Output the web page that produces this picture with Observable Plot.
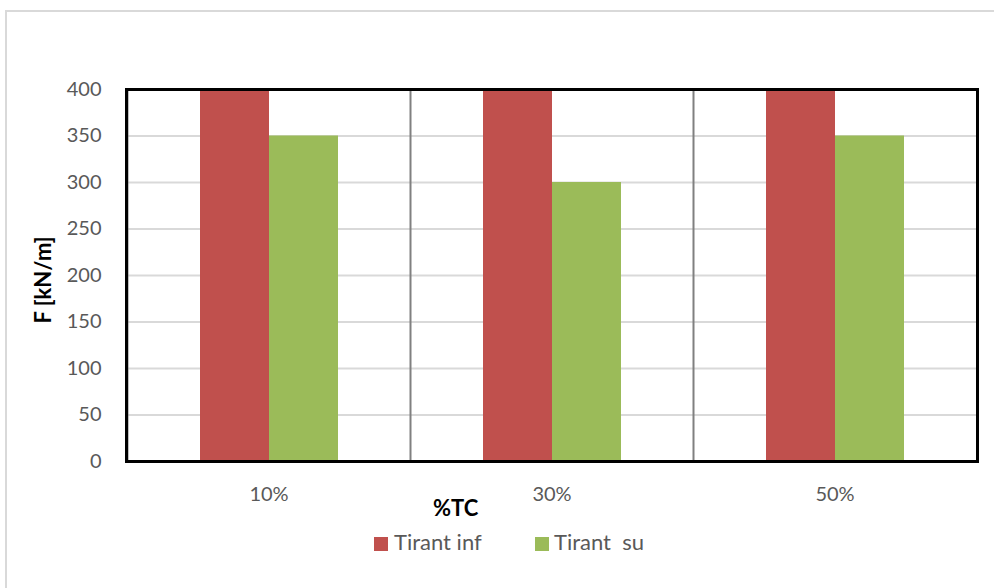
<!DOCTYPE html>
<html>
<head>
<meta charset="utf-8">
<script src="https://cdn.jsdelivr.net/npm/d3@7"></script>
<script src="https://cdn.jsdelivr.net/npm/@observablehq/plot@0.6"></script>
<style>
  html, body { margin: 0; padding: 0; background: #fff; }
  #wrap { position: relative; width: 994px; height: 588px; overflow: hidden; font-family: Lato, "Open Sans", sans-serif; }
  #outer { position: absolute; left: 5px; top: 10px; width: 1200px; height: 1000px; border-left: 2px solid #d9d9d9; border-top: 2px solid #d9d9d9; pointer-events: none; }
  #frame { position: absolute; box-sizing: border-box; left: 124.5px; top: 87.5px; width: 854px; height: 375px; border: 3px solid #000; pointer-events: none; }
  .t { position: absolute; white-space: nowrap; line-height: 22px; font-size: 22px; }
  .sw { position: absolute; width: 14px; height: 14px; }
</style>
</head>
<body>
<div id="wrap"><div id="outer"></div><div id="chart"></div><div id="frame"></div></div>
<script>
const categories = ["10%", "30%", "50%"];
const series = ["Tirant inf", "Tirant  su"];
const tirantInf = [400, 400, 400];
const tirantSu = [350, 300, 350];
const yTicks = [0, 50, 100, 150, 200, 250, 300, 350, 400];
const colors = ["#C0504D", "#9BBB59"];
const yTitle = "F [kN/m]";
const xTitle = "%TC";

const data = [];
categories.forEach((c, i) => {
  data.push({cat: c, s: series[0], v: tirantInf[i]});
  data.push({cat: c, s: series[1], v: tirantSu[i]});
});

const chart = Plot.plot({
  width: 994,
  height: 588,
  marginLeft: 126,
  marginRight: 17,
  marginTop: 89,
  marginBottom: 127,
  style: {fontFamily: "Lato, 'Open Sans', sans-serif", fontSize: "20px", color: "#595959", background: "transparent"},
  fx: {domain: categories, padding: 0, label: null, tickSize: 0, tickPadding: 25},
  x: {domain: series, paddingInner: 0, paddingOuter: 1.03, axis: null},
  y: {domain: [0, 400], ticks: yTicks, tickSize: 0, tickPadding: 26, label: null, clamp: true},
  color: {domain: series, range: colors},
  marks: [
    Plot.gridY(yTicks, {stroke: "#d9d9d9", strokeOpacity: 1, strokeWidth: 2}),
    Plot.frame({anchor: "left", stroke: "#808080", strokeWidth: 2}),
    Plot.barY(data, {fx: "cat", x: "s", y: "v", fill: "s", inset: 0})
  ]
});
document.getElementById("chart").appendChild(chart);

const wrap = document.getElementById("wrap");
function addText(txt, left, top, opts = {}) {
  const d = document.createElement("div");
  d.className = "t";
  d.textContent = txt;
  d.style.left = left + "px";
  d.style.top = top + "px";
  d.style.color = opts.color || "#595959";
  if (opts.bold) d.style.fontWeight = "bold";
  if (opts.transform) d.style.transform = opts.transform;
  wrap.appendChild(d);
  return d;
}
function addSwatch(color, left, top) {
  const d = document.createElement("div");
  d.className = "sw";
  d.style.background = color;
  d.style.left = left + "px";
  d.style.top = top + "px";
  wrap.appendChild(d);
}
// axis titles
addText(xTitle, 433, 497, {bold: true, color: "#000"});
addText(yTitle, 43, 280, {bold: true, color: "#000", transform: "translate(-50%, -50%) rotate(-90deg)"});
// legend
addSwatch(colors[0], 374, 537);
addText(series[0], 394, 531);
addSwatch(colors[1], 535, 537);
const s2 = addText(series[1], 554, 531);
s2.style.whiteSpace = "pre";
</script>
</body>
</html>
